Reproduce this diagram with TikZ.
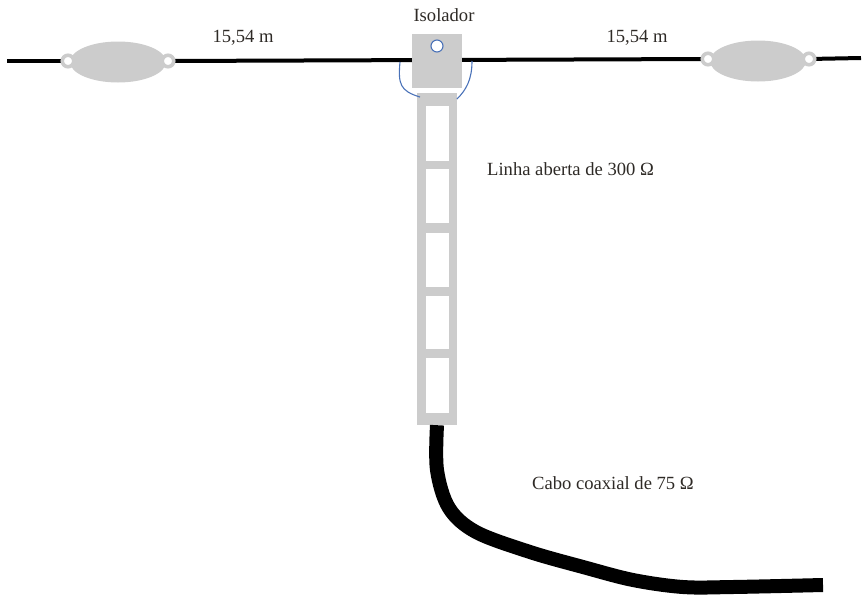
\documentclass[tikz,border=0pt]{standalone}
\usepackage{fontspec}
\setmainfont{Liberation Serif}
\usetikzlibrary{shapes.geometric,backgrounds}
\definecolor{insgrey}{HTML}{CCCCCC}
\definecolor{leadblue}{HTML}{4A72B8}
\definecolor{txt}{HTML}{2E2A26}
\tikzset{
  wire/.style={line width=4, black},
  insbody/.style={ellipse, fill=insgrey, draw=none, minimum width=96, minimum height=41, inner sep=0},
  eye/.style={circle, draw=insgrey, line width=3.6, fill=white, minimum size=11.5, inner sep=0},
  feedbox/.style={rectangle, fill=insgrey, draw=none, minimum width=50, minimum height=54, inner sep=0},
  lead/.style={leadblue, line width=1.1},
  ladder/.style={rectangle, fill=insgrey, draw=none, minimum width=40, minimum height=332, inner sep=0},
  window/.style={fill=white},
  coax/.style={line width=14, black, line cap=butt, line join=round},
  lbl/.style={text=txt, inner sep=0, font=\fontsize{18.6}{22}\selectfont},
}
\begin{document}
\begin{tikzpicture}[x=1pt, y=-1pt]
\useasboundingbox (0,0) rectangle (863,595);

% antenna wire ends
\coordinate (wl) at (7,61);
\coordinate (wr) at (861,58);

% left and right insulators
\node[insbody] (i1) at (118,62) {};
\node[eye] (e1) at (68,61) {};
\node[eye] (e2) at (168,61) {};
\node[insbody] (i2) at (758,61) {};
\node[eye] (e3) at (708,59) {};
\node[eye] (e4) at (809,59) {};

% central insulator
\node[feedbox] (box) at (437,61) {};
\node[circle, draw=leadblue, fill=white, line width=1.1, minimum size=12, inner sep=0] (hole) at (437,46) {};

% open ladder line
\node[ladder] (lad) at (437,259) {};
\foreach \ya/\yb in {106/161, 169/223, 233/287, 296/349, 358/413}
  \fill[window] (426,\ya) rectangle (449,\yb);

% wire runs behind the insulators
\begin{scope}[on background layer]
  \draw[wire] (wl) -- (e1.center);
  \draw[wire] (e2.center) -- (e3.center);
  \draw[wire] (e4.center) -- (wr);
\end{scope}

% leads from the dipole halves to the ladder line
\coordinate (tl) at (400,62);
\coordinate (tr) at (472,61);
\draw[lead] (tl) .. controls (398,84) and (400,91) .. (420,97);
\draw[lead] (tr) .. controls (472,80) and (466,90) .. (457,99);

% coaxial cable
\draw[coax] plot[smooth, tension=0.55] coordinates {
  (lad.south) (437,470) (449,508) (476,532) (530,552) (583,567)
  (633,580) (683,587) (733,587) (823,585)};

% labels
\node[lbl] (d1) at (243,38) {15,54 m};
\node[lbl] (d2) at (637,38) {15,54 m};
\node[lbl] (iso) at (444,15) {Isolador};
\node[lbl, anchor=west] (lin) at (487,169) {Linha aberta de 300 Ω};
\node[lbl, anchor=west] (cab) at (532,483) {Cabo coaxial de 75 Ω};
\end{tikzpicture}
\end{document}
